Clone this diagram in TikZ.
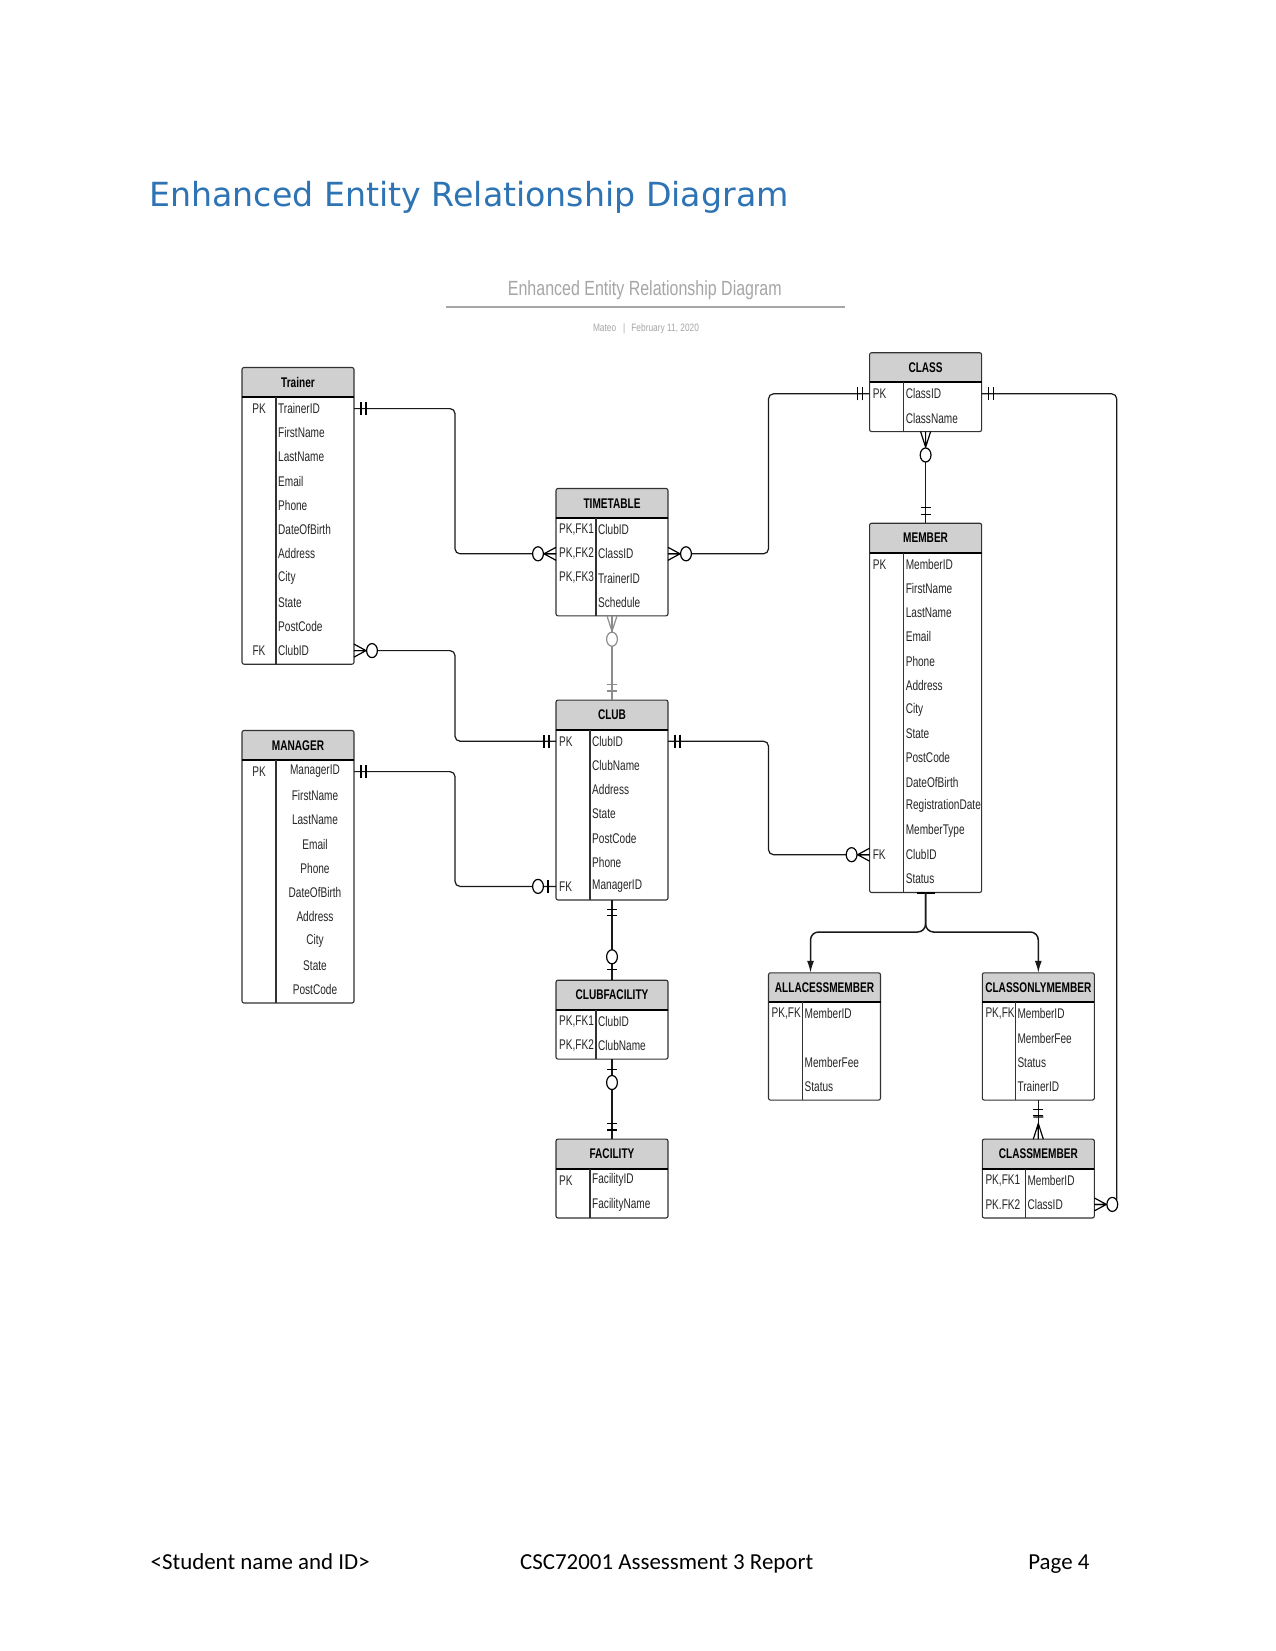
\documentclass[tikz,border=0pt]{standalone}
\usepackage{fontspec}
\newfontfamily\erfont[FakeStretch=0.72]{Liberation Sans}
\newfontfamily\ersubfont[FakeStretch=0.78]{Liberation Sans}
\newfontfamily\headfont{DejaVu Sans}
\newfontfamily\footfont{Carlito}
\usetikzlibrary{arrows.meta}

\definecolor{erhead}{RGB}{208,208,208}
\definecolor{erline}{RGB}{50,50,50}
\definecolor{headblue}{RGB}{46,116,181}
\definecolor{subgray}{RGB}{166,166,166}

% #1 name, #2 left, #3 top, #4 width, #5 key column, #6 rows,
% #7 title, #8 alignment (0 left, 1 centred key, 2 centred both), #9 key/attribute list
\newcommand{\erentity}[9]{%
  \pgfmathsetmacro{\erhb}{#3+29.5}
  \pgfmathsetmacro{\erbot}{#3+30.5+#6*24.2}
  \pgfmathsetmacro{\erht}{30.5+#6*24.2}
  \fill[erhead,rounded corners=2] (#2,#3) rectangle (#2+#4,\erhb);
  \node[erbox,anchor=north west,minimum width=#4pt,minimum height=\erht pt] (#1) at (#2,#3) {};
  \draw[line width=1.8] (#2,\erhb) -- (#2+#4,\erhb);
  \draw[line width=1.1,erline] (#2+#5,\erhb) -- (#2+#5,\erbot);
  \node[ertitle] (#1-title) at (#2+#4/2,#3+14.75) {#7};
  \foreach \ekey/\eatt [count=\erow] in {#9}{%
    \pgfmathsetmacro{\ery}{\erhb+11.6+(\erow-1)*24.2}
    \ifcase#8
      \node[erattr,anchor=west] (#1-k\erow) at (#2+3,\ery) {\ekey};
      \node[erattr,anchor=west] (#1-\erow) at (#2+#5+2,\ery) {\eatt};
    \or
      \node[erattr] (#1-k\erow) at (#2+#5/2,\ery) {\ekey};
      \node[erattr,anchor=west] (#1-\erow) at (#2+#5+2,\ery) {\eatt};
    \or
      \node[erattr] (#1-k\erow) at (#2+#5/2,\ery) {\ekey};
      \node[erattr] (#1-\erow) at ({#2+(#5+#4)/2},\ery) {\eatt};
    \fi
  }%
}

\begin{document}
\begin{tikzpicture}[x=1pt,y=-1pt,>=latex,
  erbox/.style={draw=erline,line width=1.1,rounded corners=2,inner sep=0,outer sep=0},
  ertitle/.style={font=\erfont\bfseries\fontsize{14}{16}\selectfont,text=black,inner sep=0},
  erattr/.style={font=\erfont\fontsize{14}{16}\selectfont,text=black!85,inner sep=0},
  erlink/.style={draw=black!90,line width=1.2,rounded corners=5},
  ermark/.style={line width=1.2},
  hmark/.style={yscale=1.3},
  vmark/.style={xscale=1.3},
  onlyone/.pic={\draw[ermark] (7,-5) -- (7,5) (12,-5) -- (12,5);},
  zeromany/.pic={\draw[ermark] (0,-5) -- (12,0) -- (0,5) (0,0) -- (12,0);
    \draw[ermark,fill=white] (18,0) circle[radius=5.4];},
  zeroone/.pic={\draw[ermark] (8,-5) -- (8,5);
    \draw[ermark,fill=white] (18,0) circle[radius=5.4];},
  onemany/.pic={\draw[ermark] (0,-5) -- (12,0) -- (0,5) (0,0) -- (12,0) (17,-5) -- (17,5);}]
  \path[fill=white] (0,0) rectangle (1275,1651);

  % page heading and footer
  \node[anchor=base west,font=\headfont\fontsize{33.2}{40}\selectfont,text=headblue,inner sep=0] (heading) at (149.3,206) {Enhanced Entity Relationship Diagram};
  \node[anchor=base,font=\ersubfont\fontsize{20.5}{24}\selectfont,text=subgray,inner sep=0] (subtitle) at (644.8,295) {Enhanced Entity Relationship Diagram};
  \draw[subgray,line width=2] (446,307.4) -- (845,307.4);
  \node[font=\ersubfont\fontsize{10.7}{12}\selectfont,text=black!35,inner sep=0] (byline) at (646,328.5) {Mateo\hspace{7pt}|\hspace{6pt}February 11, 2020};
  \node[anchor=base west,font=\footfont\fontsize{22.9}{28}\selectfont,inner sep=0] (student) at (150.5,1569) {<Student name and ID>};
  \node[anchor=base west,font=\footfont\fontsize{22.9}{28}\selectfont,inner sep=0] (report) at (520,1569) {CSC72001 Assessment 3 Report};
  \node[anchor=base east,font=\footfont\fontsize{22.9}{28}\selectfont,inner sep=0] (page) at (1089.6,1569) {Page 4};

  % entities
  \erentity{trainer}{242}{367.5}{112}{34}{11}{Trainer}{1}{PK/TrainerID,/FirstName,/LastName,/Email,/Phone,/DateOfBirth,/Address,/City,/State,/PostCode,FK/ClubID}
  \erentity{manager}{242}{730.5}{112}{34}{10}{MANAGER}{2}{PK/ManagerID,/FirstName,/LastName,/Email,/Phone,/DateOfBirth,/Address,/City,/State,/PostCode}
  \erentity{timetable}{556}{488.5}{112}{40}{4}{TIMETABLE}{0}{{PK,FK1}/ClubID,{PK,FK2}/ClassID,{PK,FK3}/TrainerID,/Schedule}
  \erentity{class}{869.6}{352.7}{112}{34}{2}{CLASS}{0}{PK/ClassID,/ClassName}
  \erentity{member}{869.6}{523.2}{112}{34}{14}{MEMBER}{0}{PK/MemberID,/FirstName,/LastName,/Email,/Phone,/Address,/City,/State,/PostCode,/DateOfBirth,/RegistrationDate,/MemberType,FK/ClubID,/Status}
  \erentity{club}{556}{700.1}{112}{34}{7}{CLUB}{0}{PK/ClubID,/ClubName,/Address,/State,/PostCode,/Phone,FK/ManagerID}
  \erentity{clubfacility}{556}{980.2}{112}{40}{2}{CLUBFACILITY}{0}{{PK,FK1}/ClubID,{PK,FK2}/ClubName}
  \erentity{facility}{556}{1139.1}{112}{34}{2}{FACILITY}{0}{PK/FacilityID,/FacilityName}
  \erentity{allacess}{768.5}{972.8}{112}{34}{4}{ALLACESSMEMBER}{0}{{PK,FK}/MemberID,{}/{},/MemberFee,/Status}
  \erentity{classonly}{982.3}{972.8}{112}{33}{4}{CLASSONLYMEMBER}{0}{{PK,FK}/MemberID,/MemberFee,/Status,/TrainerID}
  \erentity{classmember}{982.3}{1139.1}{112}{43}{2}{CLASSMEMBER}{0}{{PK,FK1}/MemberID,{PK.FK2}/ClassID}

  % lanes for the relationship lines
  \coordinate (laneA) at (455,0);
  \coordinate (laneB) at (768.5,0);
  \coordinate (laneC) at (1116.7,0);
  \coordinate (isa) at (0,932);

  % relationships
  \draw[erlink] (trainer.east |- trainer-1) -- (laneA |- trainer-1) -- (laneA |- timetable-2) -- (timetable.west |- timetable-2);
  \draw[erlink] (trainer.east |- trainer-11) -- (laneA |- trainer-11) -- (laneA |- club-1) -- (club.west |- club-1);
  \draw[erlink] (manager.east |- manager-1) -- (laneA |- manager-1) -- (laneA |- club-7) -- (club.west |- club-7);
  \draw[erlink] (timetable.east |- timetable-2) -- (laneB |- timetable-2) -- (laneB |- class-1) -- (class.west |- class-1);
  \draw[erlink,draw=black!45] (timetable.south) -- (club.north);
  \draw[erlink] (class.south) -- (member.north);
  \draw[erlink] (class.east |- class-1) -- (laneC |- class-1) -- (laneC |- classmember-2) -- (classmember.east |- classmember-2);
  \draw[erlink] (club.east |- club-1) -- (laneB |- club-1) -- (laneB |- member-13) -- (member.west |- member-13);
  \draw[erlink] (club.south) -- (clubfacility.north);
  \draw[erlink] (clubfacility.south) -- (facility.north);
  \draw[erlink] (classonly.south) -- (classmember.north);

  % specialisation of member
  \draw[line width=2] ([xshift=-9]member.south) -- ([xshift=9]member.south);
  \draw[erlink,line width=1.5,rounded corners=8,-{Latex[length=12pt,width=7pt]}] (member.south) -- (member.south |- isa) -- ([xshift=-14]allacess.north |- isa) -- ([xshift=-14]allacess.north);
  \draw[erlink,line width=1.5,rounded corners=8,-{Latex[length=12pt,width=7pt]}] (member.south) -- (member.south |- isa) -- (classonly.north |- isa) -- (classonly.north);

  % cardinalities
  \pic[hmark] at (trainer.east |- trainer-1) {onlyone};
  \pic[rotate=180,hmark] at (timetable.west |- timetable-2) {zeromany};
  \pic[hmark] at (trainer.east |- trainer-11) {zeromany};
  \pic[rotate=180,hmark] at (club.west |- club-1) {onlyone};
  \pic[hmark] at (manager.east |- manager-1) {onlyone};
  \pic[rotate=180,hmark] at (club.west |- club-7) {zeroone};
  \pic[hmark] at (timetable.east |- timetable-2) {zeromany};
  \pic[rotate=180,hmark] at (class.west |- class-1) {onlyone};
  \pic[black!45,rotate=-90,vmark] at (timetable.south) {zeromany};
  \pic[black!45,rotate=90,vmark] at (club.north) {onlyone};
  \pic[rotate=-90,vmark] at (class.south) {zeromany};
  \pic[rotate=90,vmark] at (member.north) {onlyone};
  \pic[hmark] at (class.east |- class-1) {onlyone};
  \pic[hmark] at (classmember.east |- classmember-2) {zeromany};
  \pic[hmark] at (club.east |- club-1) {onlyone};
  \pic[rotate=180,hmark] at (member.west |- member-13) {zeromany};
  \pic[rotate=-90,vmark] at (club.south) {onlyone};
  \pic[rotate=90,vmark] at (clubfacility.north) {zeroone};
  \pic[rotate=-90,vmark] at (clubfacility.south) {zeroone};
  \pic[rotate=90,vmark] at (facility.north) {onlyone};
  \pic[rotate=-90,vmark] at (classonly.south) {onlyone};
  \pic[rotate=90,vmark] at (classmember.north) {onemany};
\end{tikzpicture}
\end{document}
